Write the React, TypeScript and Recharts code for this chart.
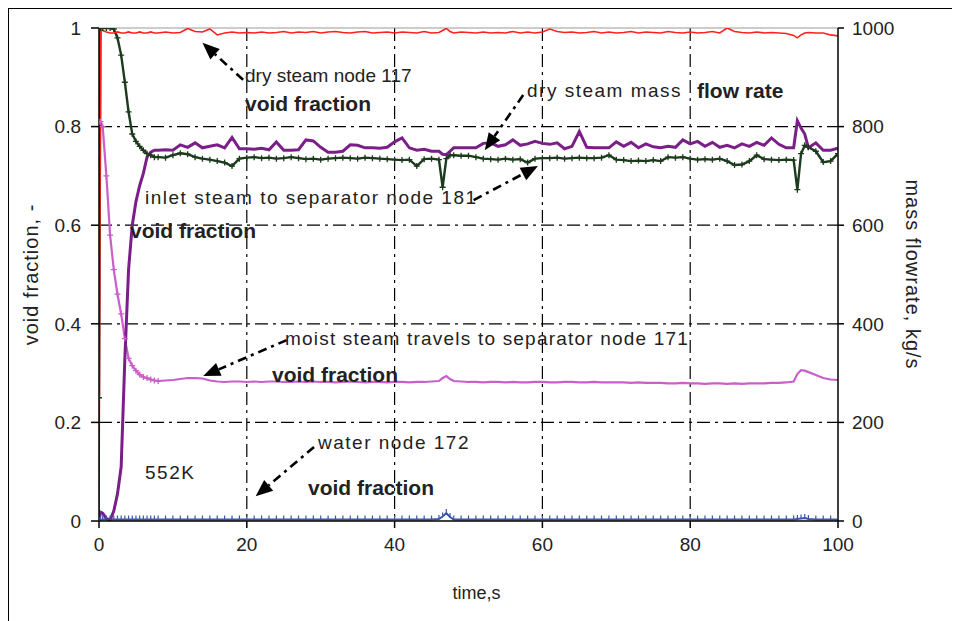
import React, { useLayoutEffect } from "react";
import { LineChart, Line, XAxis, YAxis, CartesianGrid, ReferenceLine } from "recharts";

// time axis, s (shared by every series)
const TIME = [
  0, 0.2, 0.5, 1, 1.5, 2, 2.5, 3, 3.5, 4, 4.5, 5, 5.5, 6, 6.5, 7, 7.5,
  8, 9, 10, 11, 12, 13, 14, 15, 16, 17, 18, 19,
  20, 21, 22, 23, 24, 25, 26, 27, 28, 29,
  30, 31, 32, 33, 34, 35, 36, 37, 38, 39,
  40, 41, 42, 43, 44, 45, 46, 46.5, 47, 47.5, 48, 49,
  50, 51, 52, 53, 54, 55, 56, 57, 58, 59,
  60, 61, 62, 63, 64, 65, 66, 67, 68, 69,
  70, 71, 72, 73, 74, 75, 76, 77, 78, 79,
  80, 81, 82, 83, 84, 85, 86, 87, 88, 89,
  90, 91, 92, 93, 94, 94.5, 95, 95.5, 96, 97, 98, 99, 100,
];

// dry steam node 117 void fraction
const DRY_117 = [
  0, 1.0, 0.995, 0.992, 0.99, 0.99, 0.992, 0.99, 0.99, 0.992, 0.99, 0.99, 0.992, 0.99, 0.99, 0.992, 0.99,
  0.99, 0.992, 0.99, 0.991, 0.999, 0.993, 0.992, 0.998, 0.986, 0.99, 0.992, 0.99,
  0.991, 0.99, 0.992, 0.99, 0.991, 0.993, 0.99, 0.992, 0.991, 0.993,
  0.99, 0.992, 0.993, 0.991, 0.99, 0.992, 0.993, 0.99, 0.991, 0.992,
  0.99, 0.992, 0.991, 0.99, 0.993, 0.99, 0.991, 0.995, 0.999, 0.993, 0.99, 0.992,
  0.991, 0.99, 0.992, 0.99, 0.991, 0.99, 0.993, 0.99, 0.992, 0.99,
  0.992, 0.998, 0.993, 0.991, 0.992, 0.99, 0.991, 0.993, 0.99, 0.992,
  0.99, 0.991, 0.993, 0.99, 0.992, 0.991, 0.99, 0.993, 0.991, 0.99,
  0.992, 0.99, 0.991, 0.993, 0.99, 1.0, 0.993, 0.991, 0.99, 0.992,
  0.99, 0.991, 0.99, 0.989, 0.985, 0.98, 0.986, 0.99, 0.991, 0.99, 0.99, 0.986, 0.984,
];

// inlet steam to separator node 181 void fraction
const INLET_181 = [
  0.25, 1.0, 1.0, 1.0, 1.0, 0.998, 0.98, 0.945, 0.89, 0.83, 0.785, 0.77, 0.76, 0.752, 0.745, 0.742, 0.738,
  0.738, 0.737, 0.742, 0.746, 0.744, 0.738, 0.735, 0.733, 0.73, 0.727, 0.72, 0.735,
  0.737, 0.738, 0.736, 0.737, 0.735, 0.736, 0.738, 0.736, 0.734, 0.735,
  0.733, 0.735, 0.736, 0.737, 0.736, 0.735, 0.737, 0.736, 0.735, 0.734,
  0.733, 0.732, 0.733, 0.72, 0.734, 0.735, 0.733, 0.677, 0.735, 0.742, 0.742, 0.741,
  0.741, 0.738, 0.735, 0.734, 0.733, 0.735, 0.733, 0.734, 0.727, 0.735,
  0.736, 0.736, 0.737, 0.735, 0.736, 0.737, 0.736, 0.736, 0.737, 0.742,
  0.733, 0.732, 0.73, 0.731, 0.73, 0.732, 0.73, 0.738, 0.737, 0.738,
  0.735, 0.733, 0.734, 0.733, 0.735, 0.73, 0.722, 0.723, 0.73, 0.742,
  0.734, 0.733, 0.732, 0.733, 0.732, 0.672, 0.745, 0.762, 0.758, 0.75, 0.728, 0.73, 0.745,
];

// dry steam mass flow rate, kg/s (right axis)
const MASS_FLOW = [
  0, 18, 16, 5, 2, 20, 55, 110, 330, 510, 600, 648, 680, 705, 738, 748, 752,
  752, 753, 752, 763, 758, 767, 757, 760, 763, 757, 778, 755,
  755, 754, 756, 753, 769, 752, 752, 753, 773, 771,
  758, 748, 748, 750, 763, 762, 757, 757, 756, 758,
  769, 777, 757, 752, 754, 750, 750, 744, 743, 750, 757, 757,
  757, 757, 766, 767, 760, 763, 773, 762, 765, 770,
  766, 764, 767, 755, 760, 790, 758, 757, 757, 757,
  769, 760, 768, 757, 765, 759, 757, 760, 758, 773,
  765, 770, 760, 768, 758, 762, 757, 765, 760, 768,
  762, 777, 764, 757, 757, 812, 797, 785, 757, 767, 752, 752, 756,
];

// moist steam travels to separator node 171 void fraction
const MOIST_171 = [
  0.81, 0.81, 0.8, 0.7, 0.58, 0.51, 0.46, 0.42, 0.37, 0.33, 0.315, 0.305, 0.297, 0.292, 0.29, 0.287, 0.285,
  0.284, 0.285, 0.286, 0.288, 0.29, 0.29, 0.289, 0.285, 0.283, 0.282, 0.283, 0.283,
  0.282, 0.283, 0.282, 0.283, 0.283, 0.282, 0.282, 0.283, 0.282, 0.283,
  0.282, 0.282, 0.281, 0.282, 0.283, 0.282, 0.281, 0.282, 0.282, 0.281,
  0.282, 0.282, 0.281, 0.282, 0.282, 0.283, 0.284, 0.29, 0.294, 0.288, 0.284, 0.283,
  0.282, 0.282, 0.281, 0.282, 0.282, 0.281, 0.282, 0.281, 0.281, 0.282,
  0.282, 0.281, 0.281, 0.282, 0.282, 0.281, 0.281, 0.282, 0.281, 0.281,
  0.281, 0.281, 0.28, 0.281, 0.28, 0.28, 0.28, 0.279, 0.279, 0.28,
  0.279, 0.279, 0.278, 0.279, 0.279, 0.278, 0.279, 0.278, 0.279, 0.279,
  0.279, 0.28, 0.28, 0.281, 0.283, 0.298, 0.306, 0.305, 0.302, 0.296, 0.29, 0.287, 0.286,
];

// water node 172 void fraction
const WATER_172 = [
  0, 0.002, 0.003, 0.003, 0.003, 0.003, 0.003, 0.003, 0.003, 0.003, 0.003, 0.003, 0.003, 0.003, 0.003, 0.003, 0.003,
  0.003, 0.003, 0.003, 0.003, 0.003, 0.003, 0.003, 0.003, 0.003, 0.003, 0.003, 0.003,
  0.003, 0.003, 0.003, 0.003, 0.003, 0.003, 0.003, 0.003, 0.003, 0.003,
  0.003, 0.003, 0.003, 0.003, 0.003, 0.003, 0.003, 0.003, 0.003, 0.003,
  0.003, 0.003, 0.003, 0.003, 0.003, 0.003, 0.004, 0.009, 0.016, 0.008, 0.003, 0.003,
  0.003, 0.003, 0.003, 0.003, 0.003, 0.003, 0.003, 0.003, 0.003, 0.003,
  0.003, 0.003, 0.003, 0.003, 0.003, 0.003, 0.003, 0.003, 0.003, 0.003,
  0.003, 0.003, 0.003, 0.003, 0.003, 0.003, 0.003, 0.003, 0.003, 0.003,
  0.003, 0.003, 0.003, 0.003, 0.003, 0.003, 0.003, 0.003, 0.003, 0.003,
  0.003, 0.003, 0.003, 0.003, 0.003, 0.004, 0.005, 0.006, 0.004, 0.003, 0.003, 0.003, 0.003,
];

const X_TICKS = [0, 20, 40, 60, 80, 100];
const LEFT_TICKS = [0, 0.2, 0.4, 0.6, 0.8, 1];
const RIGHT_TICKS = [0, 200, 400, 600, 800, 1000];

// annotation arrows: [tail time, tail void fraction, head time, head void fraction]
const ARROWS = [
  [19.5, 0.895, 14.0, 0.97],
  [57.4, 0.864, 52.2, 0.752],
  [50.7, 0.651, 59.4, 0.72],
  [25.4, 0.367, 14.1, 0.294],
  [29.1, 0.15, 21.2, 0.05],
];

const FONT = "'Liberation Sans', Arial, sans-serif";
const TXT = "#222";

const data = TIME.map((t, i) => ({
  t,
  dry: DRY_117[i],
  inlet: INLET_181[i],
  mass: MASS_FLOW[i],
  moist: MOIST_171[i],
  water: WATER_172[i],
}));

const arrowShape = (p: any) => {
  const { x1, y1, x2, y2 } = p;
  const a = Math.atan2(y2 - y1, x2 - x1);
  const len = 17;
  const half = 7;
  const bx = x2 - len * Math.cos(a);
  const by = y2 - len * Math.sin(a);
  const pts = [
    [x2, y2],
    [bx + half * Math.sin(a), by - half * Math.cos(a)],
    [bx - half * Math.sin(a), by + half * Math.cos(a)],
  ]
    .map((q) => q.join(","))
    .join(" ");
  return (
    <g>
      <line x1={x1} y1={y1} x2={bx} y2={by} stroke="#000" strokeWidth={2.6} strokeDasharray="9 5 3 5" />
      <polygon points={pts} fill="#000" />
    </g>
  );
};

// "+" markers; maxT limits them to the early transient
const crossDot = (color: string, maxT = Infinity) => (p: any) => {
  const { cx, cy, index, payload } = p;
  if (cx == null || cy == null || (payload && payload.t > maxT)) return <g key={index} />;
  return (
    <path
      key={index}
      d={`M${cx - 3},${cy}H${cx + 3}M${cx},${cy - 3}V${cy + 3}`}
      stroke={color}
      strokeWidth={1.3}
    />
  );
};

const tickDot = (p: any) => {
  const { cx, cy, index } = p;
  if (cx == null || cy == null) return <g key={index} />;
  return <path key={index} d={`M${cx},${cy}V${cy - 4}`} stroke="#3a55b0" strokeWidth={1.2} />;
};

const Note = ({
  x,
  y,
  bold,
  spacing = 1.5,
  children,
}: {
  x: number;
  y: number;
  bold?: boolean;
  spacing?: number;
  children: React.ReactNode;
}) => (
  <div
    style={{
      position: "absolute",
      left: x - 9,
      top: y - 9,
      transform: "translateY(-50%)",
      whiteSpace: "nowrap",
      fontFamily: FONT,
      fontSize: bold ? 21 : 19,
      fontWeight: bold ? 700 : 400,
      letterSpacing: bold ? 0 : spacing,
      color: TXT,
      lineHeight: 1,
    }}
  >
    {children}
  </div>
);

export default function App() {
  useLayoutEffect(() => {
    document.documentElement.style.overflow = "hidden";
  }, []);

  const tickStyle = { fontSize: 19, fill: TXT, fontFamily: FONT };
  const titleStyle = { textAnchor: "middle", fontSize: 20, fill: TXT, fontFamily: FONT, letterSpacing: 1 } as any;

  return (
    <div
      style={{
        position: "relative",
        width: 951,
        height: 612,
        borderTop: "1px solid #000",
        borderLeft: "1px solid #000",
        background: "#fff",
      }}
    >
      <div style={{ position: "absolute", left: 0, top: 0 }}>
        <LineChart width={940} height={600} data={data} margin={{ top: 19, right: 0, bottom: 0, left: 0 }}>
          <CartesianGrid
            yAxisId="left"
            stroke="#000"
            strokeWidth={1.2}
            strokeDasharray="13 5 3 5"
            horizontalValues={[0.2, 0.4, 0.6, 0.8]}
            verticalValues={[20, 40, 60, 80]}
          />
          <XAxis
            dataKey="t"
            type="number"
            domain={[0, 100]}
            ticks={X_TICKS}
            allowDataOverflow
            stroke="#000"
            strokeWidth={1.5}
            tickSize={7}
            tickMargin={10}
            height={88}
            tick={tickStyle}
            label={{
              value: "time,s",
              position: "insideBottom",
              offset: 10,
              dx: 8,
              style: { fontSize: 18, fill: TXT, fontFamily: FONT },
            }}
          />
          <YAxis
            yAxisId="left"
            domain={[0, 1]}
            ticks={LEFT_TICKS}
            allowDataOverflow
            width={90}
            stroke="#000"
            strokeWidth={1.5}
            tickSize={8}
            tickMargin={10}
            tick={tickStyle}
            label={{
              value: "void fraction, -",
              angle: -90,
              position: "insideLeft",
              offset: 22,
              style: titleStyle,
            }}
          />
          <YAxis
            yAxisId="right"
            orientation="right"
            domain={[0, 1000]}
            ticks={RIGHT_TICKS}
            allowDataOverflow
            width={111}
            stroke="#000"
            strokeWidth={1.5}
            tickSize={6}
            tickMargin={8}
            tick={tickStyle}
            label={{
              value: "mass flowrate, kg/s",
              angle: 90,
              position: "insideRight",
              offset: 36,
              style: titleStyle,
            }}
          />
          <ReferenceLine yAxisId="left" y={1} stroke="#999" strokeWidth={1.2} />
          <Line
            yAxisId="left"
            dataKey="moist"
            stroke="#c95fc9"
            strokeWidth={2.2}
            dot={crossDot("#c95fc9", 8)}
            isAnimationActive={false}
          />
          <Line
            yAxisId="left"
            dataKey="water"
            stroke="#3a55b0"
            strokeWidth={2}
            dot={tickDot}
            isAnimationActive={false}
          />
          <Line
            yAxisId="left"
            dataKey="inlet"
            stroke="#1c3a1c"
            strokeWidth={2.4}
            dot={crossDot("#1c3a1c")}
            isAnimationActive={false}
          />
          <Line
            yAxisId="right"
            dataKey="mass"
            stroke="#7a1f88"
            strokeWidth={3}
            dot={false}
            isAnimationActive={false}
          />
          <Line
            yAxisId="left"
            dataKey="dry"
            stroke="#ff2020"
            strokeWidth={1.6}
            dot={false}
            isAnimationActive={false}
          />
          {ARROWS.map(([t1, v1, t2, v2], i) => (
            <ReferenceLine
              key={i}
              yAxisId="left"
              segment={[
                { x: t1, y: v1 },
                { x: t2, y: v2 },
              ]}
              ifOverflow="visible"
              shape={arrowShape}
            />
          ))}
        </LineChart>
      </div>

      <Note x={245} y={75} spacing={0}>dry steam node 117</Note>
      <Note x={245} y={103} bold>void fraction</Note>
      <Note x={527} y={90}>dry steam mass</Note>
      <Note x={697} y={90} bold>flow rate</Note>
      <Note x={145} y={197}>inlet steam to separator node 181</Note>
      <Note x={130} y={230} bold>void fraction</Note>
      <Note x={285} y={338} spacing={1.2}>moist steam travels to separator node 171</Note>
      <Note x={272} y={374} bold>void fraction</Note>
      <Note x={318} y={442}>water node 172</Note>
      <Note x={308} y={487} bold>void fraction</Note>
      <Note x={145} y={472}>552K</Note>
    </div>
  );
}
